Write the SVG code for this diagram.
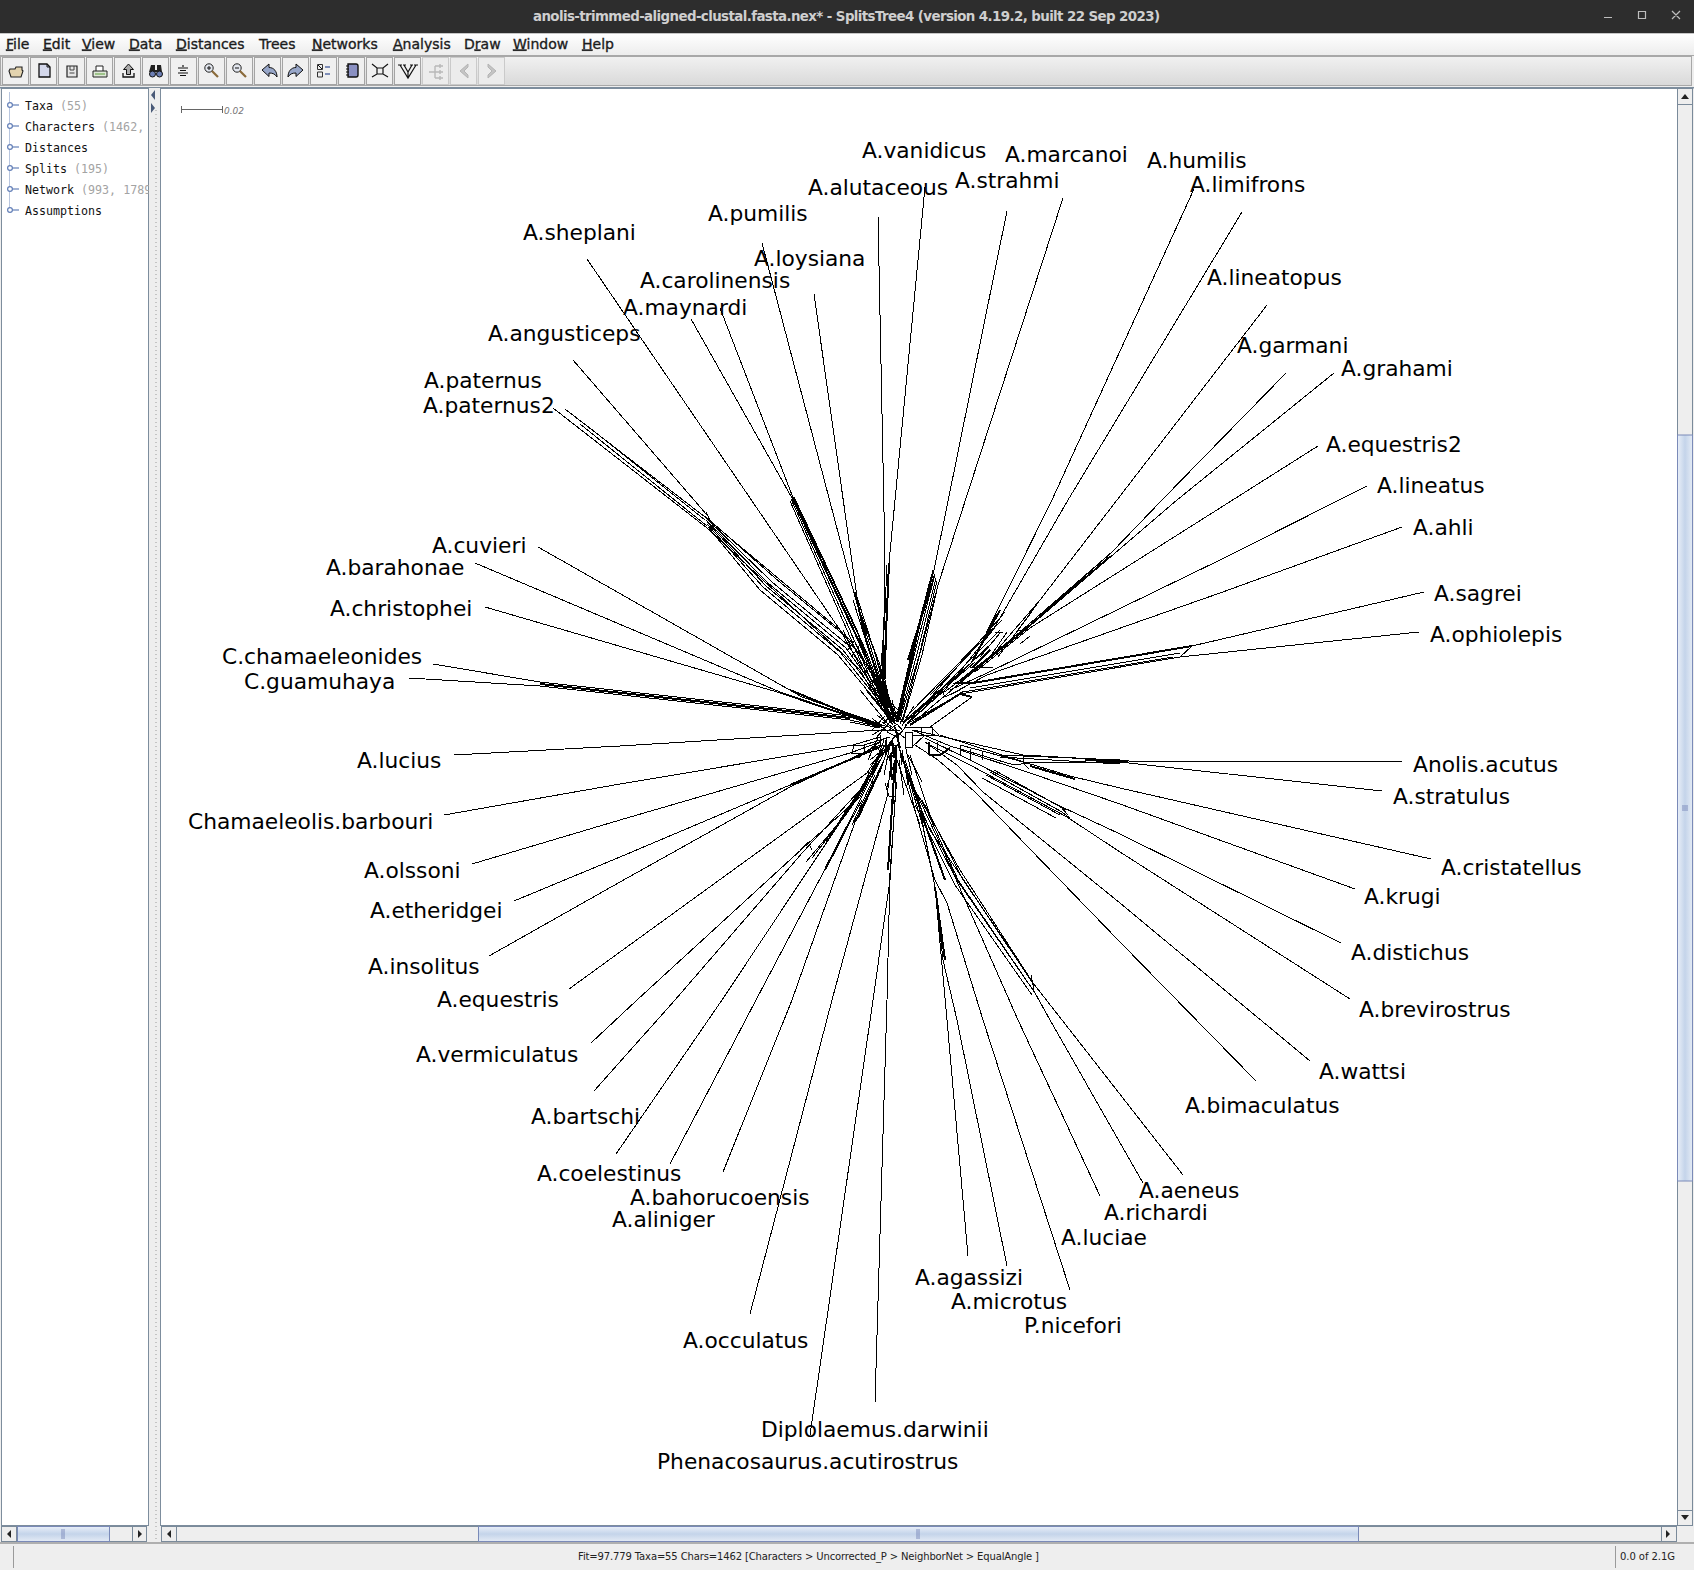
<svg xmlns="http://www.w3.org/2000/svg" width="1694" height="1570" viewBox="0 0 1694 1570">
<style>
.menu{font:14px "DejaVu Sans",sans-serif;fill:#1c1c1c;stroke:#1c1c1c;stroke-width:.35}
.u{text-decoration:underline}
.tree{font:11.65px "DejaVu Sans Mono",monospace;fill:#111}
.cnt{fill:#a3a3a3}
.lb{font:21.75px "DejaVu Sans",sans-serif;fill:#000}
.e{fill:none;stroke:#000;stroke-width:1;shape-rendering:crispEdges}
.t{stroke-width:2}
.btn{fill:#f0f0f0;stroke:#a4a4a4;stroke-width:1}
.dbtn{fill:#ececec;stroke:#cacaca;stroke-width:1}
.ln{fill:none;stroke:#111;stroke-width:1.2}
.dis{fill:none;stroke:#b8b8b8;stroke-width:1.4}
.sb{fill:#eeeeee;stroke:#7a8a9a;stroke-width:1}
.th{fill:url(#thumb);stroke:#7a8ab8;stroke-width:1}
.hd{fill:#fff;stroke:#6480b8;stroke-width:1.2}
.hl{stroke:#6480b8;stroke-width:1.2}
</style>
<defs>
<linearGradient id="mb" x1="0" y1="0" x2="0" y2="1"><stop offset="0" stop-color="#fff"/><stop offset="1" stop-color="#ececec"/></linearGradient>
<linearGradient id="tb" x1="0" y1="0" x2="0" y2="1"><stop offset="0" stop-color="#f1f1f1"/><stop offset="1" stop-color="#d9d9d9"/></linearGradient>
<linearGradient id="thumb" x1="0" y1="0" x2="0" y2="1"><stop offset="0" stop-color="#e9eff8"/><stop offset=".5" stop-color="#c4d4ea"/><stop offset="1" stop-color="#e4ebf5"/></linearGradient>
<linearGradient id="thumbv" x1="0" y1="0" x2="1" y2="0"><stop offset="0" stop-color="#e9eff8"/><stop offset=".5" stop-color="#c4d4ea"/><stop offset="1" stop-color="#e4ebf5"/></linearGradient>
<clipPath id="tp"><rect x="2" y="88" width="147" height="1436"/></clipPath>
</defs>
<rect width="1694" height="1570" fill="#eeeeee"/>

<g id="titlebar">
<rect width="1694" height="33.5" fill="#2d2d2d"/>
<text x="533" y="20.5" font-family="DejaVu Sans,sans-serif" font-size="13.4" font-weight="bold" fill="#cfcfcf" textLength="627">anolis-trimmed-aligned-clustal.fasta.nex* - SplitsTree4 (version 4.19.2, built 22 Sep 2023)</text>
<path d="M1604 17.5H1612M1638.5 11.5h7v7h-7zM1672 11l8 8M1680 11l-8 8" fill="none" stroke="#bdbdbd" stroke-width="1.2"/>
</g>

<g id="menubar">
<rect y="33.5" width="1694" height="22.5" fill="url(#mb)"/>
<line x1="0" x2="1694" y1="55.5" y2="55.5" stroke="#a8a8a8"/>
<text class="menu" x="6" y="48.5"><tspan class="u">F</tspan>ile</text>
<text class="menu" x="43" y="48.5"><tspan class="u">E</tspan>dit</text>
<text class="menu" x="82" y="48.5"><tspan class="u">V</tspan>iew</text>
<text class="menu" x="129" y="48.5"><tspan class="u">D</tspan>ata</text>
<text class="menu" x="176" y="48.5"><tspan class="u">D</tspan>istances</text>
<text class="menu" x="259" y="48.5">Trees</text>
<text class="menu" x="312" y="48.5"><tspan class="u">N</tspan>etworks</text>
<text class="menu" x="393" y="48.5"><tspan class="u">A</tspan>nalysis</text>
<text class="menu" x="464" y="48.5">D<tspan class="u">r</tspan>aw</text>
<text class="menu" x="513" y="48.5"><tspan class="u">W</tspan>indow</text>
<text class="menu" x="582" y="48.5"><tspan class="u">H</tspan>elp</text>
</g>

<g id="toolbar">
<rect x="0.5" y="56.5" width="1691" height="29" fill="url(#tb)" stroke="#a8a8a8"/>
<rect x="2.5" y="57.5" width="26" height="27" class="btn"/>
<rect x="30.5" y="57.5" width="26" height="27" class="btn"/>
<rect x="58.5" y="57.5" width="26" height="27" class="btn"/>
<rect x="86.5" y="57.5" width="26" height="27" class="btn"/>
<rect x="114.5" y="57.5" width="26" height="27" class="btn"/>
<rect x="142.5" y="57.5" width="26" height="27" class="btn"/>
<rect x="170.5" y="57.5" width="26" height="27" class="btn"/>
<rect x="198.5" y="57.5" width="26" height="27" class="btn"/>
<rect x="226.5" y="57.5" width="26" height="27" class="btn"/>
<rect x="254.5" y="57.5" width="26" height="27" class="btn"/>
<rect x="282.5" y="57.5" width="26" height="27" class="btn"/>
<rect x="310.5" y="57.5" width="26" height="27" class="btn"/>
<rect x="338.5" y="57.5" width="26" height="27" class="btn"/>
<rect x="366.5" y="57.5" width="26" height="27" class="btn"/>
<rect x="394.5" y="57.5" width="26" height="27" class="btn"/>
<rect x="422.5" y="57.5" width="26" height="27" class="dbtn"/>
<rect x="450.5" y="57.5" width="26" height="27" class="dbtn"/>
<rect x="478.5" y="57.5" width="26" height="27" class="dbtn"/>
<path d="M10 69h5l1-2h6v3l1 1-2 6H11l-2-6z" fill="#e3d3ae" stroke="#222" stroke-width="1.1"/>
<path d="M39 64h8l3 3v10H39z" fill="#d3d7ea" stroke="#111" stroke-width="1.3"/><path d="M47 64v3h3" fill="none" stroke="#111"/>
<path d="M67 66h10v11H67z" fill="#e6e6e6" stroke="#222" stroke-width="1.2"/><path d="M70 66v4h4v-4M69.5 73h5" fill="none" stroke="#444"/>
<path d="M96 66h7v6h-7z" fill="#fff" stroke="#222"/><path d="M93 71h14v6H93z" fill="#dfe8d8" stroke="#222"/><path d="M95 74h10" stroke="#7bb060" stroke-width="1.3"/>
<path d="M128.5 64l5 5.5h-3v5h-4v-5h-3z" fill="#aaa" stroke="#111"/><path d="M123 73v4h11v-4" fill="none" stroke="#111" stroke-width="1.3"/>
<path d="M151 65h4v5h2v-5h4l1 7h-13z" fill="#222"/><circle cx="152.5" cy="74" r="3" fill="#6d7fb5" stroke="#111"/><circle cx="159.5" cy="74" r="3" fill="#6d7fb5" stroke="#111"/>
<path class="ln" d="M183 65v2M178 68h10M180 70.5h6M178 73h10M180 75.5h6"/>
<circle cx="209" cy="68" r="4.2" fill="#e2e6ee" stroke="#222"/><path d="M212 71l6 6" stroke="#8a6a3a" stroke-width="2.2"/><path d="M207 68h4M209 66v4" stroke="#111"/>
<circle cx="237" cy="68" r="4.2" fill="#e2e6ee" stroke="#222"/><path d="M240 71l6 6" stroke="#8a6a3a" stroke-width="2.2"/><path d="M235 68h4" stroke="#111"/>
<path d="M262 70l7-6v3.5c5 0 8 4 8 9.5c-2-3-4-4-8-4v3.5z" fill="#97a6c8" stroke="#111"/>
<path d="M303 70l-7-6v3.5c-5 0-8 4-8 9.5c2-3 4-4 8-4v3.5z" fill="#97a6c8" stroke="#111"/>
<path d="M317.5 64.5h5v5h-5zM317.5 72h5v5h-5z" fill="#eee" stroke="#333"/><path d="M325 67h5M325 74h5" stroke="#5a6ea5" stroke-width="1.5"/><path d="M318 65l4 4" stroke="#111"/>
<path d="M348 64h8a2 2 0 0 1 2 2v9a2 2 0 0 1-2 2h-8z" fill="#8a90c2" stroke="#111" stroke-width="1.4"/><path d="M346 66h3M346 69h3M346 72h3M346 75h3" stroke="#111"/>
<path class="ln" d="M372 64l5 4h6l5-4M372 77l5-3h6l5 3M377 68v6M383 68v6"/>
<path class="ln" d="M400 65l8 13 8-13M404 65l4 7 4-7M408 72v6M398 65h4M403 65h3M410 65h3M414 65h4"/>
<path class="dis" d="M429 72h6M435 66v12M435 66h8M435 72h8M435 78h8M440 64v4M440 70v4M440 76v4"/>
<path d="M468 64l-8 7 8 7v-3l-4-4 4-4z" fill="#c4c4c4" stroke="#b4b4b4"/>
<path d="M488 64l8 7-8 7v-3l4-4-4-4z" fill="#c4c4c4" stroke="#b4b4b4"/>
</g>

<rect x="0" y="87" width="1694" height="1.5" fill="#7d8d9d"/>

<g id="leftpanel">
<rect x="1.5" y="88.5" width="147" height="1437" fill="#fff" stroke="#7d8d9d"/>
<line x1="9.5" x2="9.5" y1="92" y2="212" stroke="#b9c6de" stroke-width="1"/>
<g>
<line class="hl" x1="10" x2="19" y1="105" y2="105"/><circle class="hd" cx="10" cy="105" r="2.4"/>
<line class="hl" x1="10" x2="19" y1="126" y2="126"/><circle class="hd" cx="10" cy="126" r="2.4"/>
<line class="hl" x1="10" x2="19" y1="147" y2="147"/><circle class="hd" cx="10" cy="147" r="2.4"/>
<line class="hl" x1="10" x2="19" y1="168" y2="168"/><circle class="hd" cx="10" cy="168" r="2.4"/>
<line class="hl" x1="10" x2="19" y1="189" y2="189"/><circle class="hd" cx="10" cy="189" r="2.4"/>
<line class="hl" x1="10" x2="19" y1="210" y2="210"/><circle class="hd" cx="10" cy="210" r="2.4"/>
</g>
<g clip-path="url(#tp)">
<text class="tree" x="25" y="110">Taxa <tspan class="cnt">(55)</tspan></text>
<text class="tree" x="25" y="131">Characters <tspan class="cnt">(1462,</tspan></text>
<text class="tree" x="25" y="152">Distances</text>
<text class="tree" x="25" y="173">Splits <tspan class="cnt">(195)</tspan></text>
<text class="tree" x="25" y="194">Network <tspan class="cnt">(993, 1789</tspan></text>
<text class="tree" x="25" y="215">Assumptions</text>
</g>
</g>

<g id="splitter">
<rect x="149" y="88" width="11" height="1455" fill="#eeeeee"/>
<line x1="156" x2="156" y1="110" y2="1540" stroke="#9a9a9a" stroke-dasharray="1 3"/>
<path d="M155 90l-4 5 4 5zM151 103l4 5-4 5z" fill="#4a5a78"/>
</g>

<g id="canvas">
<rect x="160.5" y="88.5" width="1517" height="1437" fill="#fff" stroke="#7d8d9d"/>
</g>

<g id="scalebar" fill="none" stroke="#666" stroke-width="1">
<path d="M181.5 106v7M181.5 109.5H222M222.5 106v7" shape-rendering="crispEdges"/>
<text x="224" y="114" font-family="DejaVu Sans,sans-serif" font-size="9" font-style="italic" fill="#777" stroke="none">0.02</text>
</g>

<g id="connectors" class="e">
<path d="M925 187L889 563L885 680L894 722"/>
<path d="M878 216L885 560L883 675L890 722"/>
<path d="M1007 211L934 570L896 720"/>
<path d="M1063 198L938 585L902 722"/>
<path d="M1194 189L1052 500L972 662L905 722"/>
<path d="M1242 212L1068 500L993 630L945 690L907 723"/>
<path d="M1267 305L1117 500L1040 600L990 658L910 725"/>
<path d="M1286 373L1162 500L1112 552L1013 638L955 684"/>
<path d="M1334 373L1177 500L1023 632L960 682"/>
<path d="M1318 446L1220 508L1030 628L975 672"/>
<path d="M1367 486L1220 560L987 673L950 690"/>
<path d="M1402 527L1220 593L987 675L955 692"/>
<path d="M1424 592L1192 646L973 683L953 684"/>
<path d="M1419 632L1180 657L960 694"/>
<path d="M1402 761L1129 761L1023 755L913 730"/>
<path d="M1382 791L1120 762L1027 763L960 745"/>
<path d="M1431 859L1120 788L1070 776L1027 763L940 735"/>
<path d="M1355 889L1120 804L1030 773L960 750"/>
<path d="M1341 943L1120 834L1062 807L970 760L925 738"/>
<path d="M1350 999L1120 852L1067 817L970 765L930 745"/>
<path d="M1310 1061L1120 903L983 792L957 765L925 742"/>
<path d="M1256 1081L1120 942L1028 847L975 792L938 760L915 745"/>
<path d="M1183 1175L1062 1020L1033 983L930 830L905 770"/>
<path d="M1143 1183L1050 1020L1035 993L957 880L915 790L900 755"/>
<path d="M1100 1196L1018 1020L955 877L923 815L900 750"/>
<path d="M1070 1290L983 1020L947 903L935 880L915 810L902 755"/>
<path d="M1007 1266L957 1020L943 960L935 887L923 827L905 765"/>
<path d="M968 1256L947 1020L935 887L920 810L898 745"/>
<path d="M875 1402L887 1000L890 873L895 803L897 745"/>
<path d="M810 1435L873 1000L890 880L895 800L895 745"/>
<path d="M750 1314L832 1000L887 797L893 745"/>
<path d="M723 1172L792 1000L855 822L877 777L892 740"/>
<path d="M670 1164L756 1000L823 873L860 800L888 745"/>
<path d="M616 1154L722 1000L815 860L865 785L885 745"/>
<path d="M594 1091L675 1000L803 852L860 790L885 745"/>
<path d="M591 1043L637 1000L803 848L860 797L885 745"/>
<path d="M569 989L620 952L867 773L885 745"/>
<path d="M489 956L620 882L790 787L880 745"/>
<path d="M514 901L620 857L790 785L880 747"/>
<path d="M472 864L620 820L850 753L880 742"/>
<path d="M444 815L620 784L853 745L880 737"/>
<path d="M454 755L620 746L880 730"/>
<path d="M409 678L540 686L850 720L885 728"/>
<path d="M433 664L540 682L850 716L885 726"/>
<path d="M485 607L777 692L880 727"/>
<path d="M475 563L780 692L880 726"/>
<path d="M538 547L802 697L880 724"/>
<path d="M565 409L705 517L840 630L887 690L895 722"/>
<path d="M553 408L707 528L860 670L887 717L893 725"/>
<path d="M573 360L707 515"/>
<path d="M587 259L840 630L892 722"/>
<path d="M691 319L792 498L853 627L890 722"/>
<path d="M720 308L792 495L867 653L893 722"/>
<path d="M762 243L855 597L887 700L895 722"/>
<path d="M814 294L857 597L890 700L897 722"/>

<path d="M580 424L707 526M590 428L705 520"/>
<path d="M705 516L775 578L850 640L888 700M706 518L772 582L848 645L889 705M706 520L768 583L846 648L889 708M707 522L766 586L843 650L890 712M707 524L763 587L840 652L891 716M708 527L760 590L838 655L892 720"/>
<path d="M706 512L714 528"/>
<path d="M851 634L864 660M843 630L852 650M855 640L848 650M860 645L852 656"/>
<path class="t" d="M792 497L852 627L868 660"/>
<path d="M791 499L849 628L882 706M790 501L847 630L880 706M794 497L855 626L885 708M796 502L857 630L887 710M798 506L859 636L889 714"/>
<path class="t" d="M855 592L866 640L884 695"/>
<path d="M853 600L872 660L888 712M858 608L874 650L892 715M860 612L880 665L893 718"/>
<path class="t" d="M889 563L884 680"/>
<path d="M887 565L882 675L888 716M886 600L880 680L886 712"/>
<path d="M933 570L913 650L897 719M935 574L915 652L898 719M936 578L917 654L899 720M937 581L919 656L900 720M938 585L922 655L903 720M934 576L911 655L896 720"/>
<path class="t" d="M932 575L915 640M930 590L908 660"/>
<path class="t" d="M916 640L899 716"/>
<path class="t" d="M790 690L880 727"/>
<path class="t" d="M540 684L850 718"/>
<path d="M850 714L880 726M850 722L880 728"/>
<path class="t" d="M790 785L880 747"/>
<path class="t" d="M855 822L877 777M858 818L880 770"/>
<path d="M852 825L875 775M860 812L882 765M865 800L884 760M845 815L870 775M835 830L866 785M826 842L860 795M812 858L853 805M806 862L848 812M825 868L862 800M840 820L880 760M830 835L878 765"/>
<path class="t" d="M825 870L848 825"/>
<path d="M800 850L808 842L812 850"/>
<path class="t" d="M888 870L895 760"/>
<path class="t" d="M920 810L945 880M935 887L945 960"/>
<path d="M922 800L958 880L1033 990M925 805L962 878L1034 985M915 805L955 885L1032 995M918 795L960 870L1028 975"/>
<path d="M1031 975L1034 990"/>
<path d="M905 760L925 820M910 755L930 815M897 760L920 825"/>
<path d="M990 772L1062 812L1070 818M994 770L1066 810M986 775L1060 815M982 778L1056 818"/>
<path d="M1060 806L1068 815"/>
<path d="M1000 755L1120 760M1000 757L1120 764"/>
<path class="t" d="M1085 760L1128 762M1030 766L1075 779"/>
<path class="t" d="M973 683L1192 646"/>
<path d="M1192 646L1180 657M1173 657L963 692M1180 653L970 688"/>
<path class="t" d="M955 683L973 683M960 694L972 697"/>
<path d="M972 697L930 727M960 694L905 725"/>
<path class="t" d="M963 692L910 725"/>
<path class="t" d="M1011 640L960 682"/>
<path d="M1112 552L1013 640M1110 556L1010 642"/>
<path class="t" d="M990 650L972 668"/>
<path d="M995 640L912 720M1000 630L918 712M1002 620L930 695M1005 612L925 704M993 628L905 718M975 662L908 720M965 668L903 722"/>
<path class="t" d="M1000 610L972 662"/>
<path d="M970 667H993M995 633L1003 632M1018 630H1027M1012 638L1027 628M998 657L1033 610M1000 633L980 657M1007 632L990 657M1030 636L1020 644M1040 600L1018 630"/>
<path d="M960 690L945 697L943 693L958 682"/>

<path d="M905 732h7v15h-7zM898 735L906 727h25l8 8M912 735H938M921 727v9M932 727v8"/>
<path d="M912 747L925 735M912 730L950 746L1014 765L1028 763"/>
<path class="t" d="M929 742v13M929 755h11L950 748"/>
<path d="M937 742v10M960 745v11M970 749v11M982 751v9M1023 755v8l6 6"/>
<path d="M854 745h10v8h-12zM864 745L890 737M870 760l10-8"/>
<path d="M868 771v8l6 4M875 765l-3 10"/>
<path d="M887 732L897 724L903 731L897 737zM880 735v12M886 737v14M892 738L895 752L890 760M872 735L888 726M884 724L890 715"/>
<path class="t" d="M895 727L900 748M892 740L894 758"/>
<path d="M874 745l9 9M882 756L888 745M885 783l4 13h6l2-14M893 790v14"/>
<path d="M872 730L885 716M876 738L890 722M866 752L884 738M858 758L880 742M880 755L896 735M876 762L892 742M880 745L898 745M886 760L900 742M870 765L886 750"/>
<path class="t" d="M886 740V755M890 755L892 780"/>
<path d="M877 715L893 728M872 718L888 732M881 708L897 722M898 735L902 765M905 745L912 775M902 750L908 785M884 775L890 745"/>
<path d="M866 690L892 722M870 685L894 718M874 680L896 716M860 690L888 724M880 690L898 715M884 696L900 712M892 700L898 722M904 700L898 722M908 705L900 724M914 706L902 726M920 708L904 728"/>
<path class="t" d="M878 695L895 724M884 690L897 720"/>
<path d="M884 740L874 768M889 745L880 772M878 738L868 760M895 760L886 790M899 760L904 795M904 762L914 790M908 755L922 782M876 730L900 730M882 722L905 738"/>
</g>

<g id="labels">
<g id="n01"><text class="lb" x="862" y="158">A.vanidicus</text></g>
<g id="n02"><text class="lb" x="1005" y="162">A.marcanoi</text></g>
<g id="n03"><text class="lb" x="1147" y="167.5">A.humilis</text></g>
<g id="n04"><text class="lb" x="1190" y="192">A.limifrons</text></g>
<g id="n05"><text class="lb" x="955" y="188">A.strahmi</text></g>
<g id="n06"><text class="lb" x="808" y="195">A.alutaceous</text></g>
<g id="n07"><text class="lb" x="708" y="221">A.pumilis</text></g>
<g id="n08"><text class="lb" x="523" y="240">A.sheplani</text></g>
<g id="n09"><text class="lb" x="754" y="266">A.loysiana</text></g>
<g id="n10"><text class="lb" x="640" y="288">A.carolinensis</text></g>
<g id="n11"><text class="lb" x="623" y="314.5">A.maynardi</text></g>
<g id="n12"><text class="lb" x="488" y="340.5">A.angusticeps</text></g>
<g id="n13"><text class="lb" x="424" y="388">A.paternus</text></g>
<g id="n14"><text class="lb" x="423" y="413">A.paternus2</text></g>
<g id="n15"><text class="lb" x="432" y="553">A.cuvieri</text></g>
<g id="n16"><text class="lb" x="326" y="575">A.barahonae</text></g>
<g id="n17"><text class="lb" x="330" y="616">A.christophei</text></g>
<g id="n18"><text class="lb" x="222" y="664">C.chamaeleonides</text></g>
<g id="n19"><text class="lb" x="244" y="689">C.guamuhaya</text></g>
<g id="n20"><text class="lb" x="357" y="768">A.lucius</text></g>
<g id="n21"><text class="lb" x="188" y="829">Chamaeleolis.barbouri</text></g>
<g id="n22"><text class="lb" x="364" y="878">A.olssoni</text></g>
<g id="n23"><text class="lb" x="370" y="918">A.etheridgei</text></g>
<g id="n24"><text class="lb" x="368" y="974">A.insolitus</text></g>
<g id="n25"><text class="lb" x="437" y="1007">A.equestris</text></g>
<g id="n26"><text class="lb" x="416" y="1062">A.vermiculatus</text></g>
<g id="n27"><text class="lb" x="531" y="1124">A.bartschi</text></g>
<g id="n28"><text class="lb" x="537" y="1181">A.coelestinus</text></g>
<g id="n29"><text class="lb" x="630" y="1205">A.bahorucoensis</text></g>
<g id="n30"><text class="lb" x="612" y="1227">A.aliniger</text></g>
<g id="n31"><text class="lb" x="683" y="1348">A.occulatus</text></g>
<g id="n32"><text class="lb" x="761" y="1437">Diplolaemus.darwinii</text></g>
<g id="n33"><text class="lb" x="657" y="1469">Phenacosaurus.acutirostrus</text></g>
<g id="n34"><text class="lb" x="915" y="1285">A.agassizi</text></g>
<g id="n35"><text class="lb" x="951" y="1309">A.microtus</text></g>
<g id="n36"><text class="lb" x="1024" y="1333">P.nicefori</text></g>
<g id="n37"><text class="lb" x="1061" y="1245">A.luciae</text></g>
<g id="n38"><text class="lb" x="1104" y="1220">A.richardi</text></g>
<g id="n39"><text class="lb" x="1139" y="1198">A.aeneus</text></g>
<g id="n40"><text class="lb" x="1185" y="1113">A.bimaculatus</text></g>
<g id="n41"><text class="lb" x="1319" y="1079">A.wattsi</text></g>
<g id="n42"><text class="lb" x="1359" y="1017">A.brevirostrus</text></g>
<g id="n43"><text class="lb" x="1351" y="959.5">A.distichus</text></g>
<g id="n44"><text class="lb" x="1364" y="903.5">A.krugi</text></g>
<g id="n45"><text class="lb" x="1441" y="875">A.cristatellus</text></g>
<g id="n46"><text class="lb" x="1393" y="804">A.stratulus</text></g>
<g id="n47"><text class="lb" x="1413" y="772">Anolis.acutus</text></g>
<g id="n48"><text class="lb" x="1430" y="642">A.ophiolepis</text></g>
<g id="n49"><text class="lb" x="1434" y="601">A.sagrei</text></g>
<g id="n50"><text class="lb" x="1413" y="535">A.ahli</text></g>
<g id="n51"><text class="lb" x="1377" y="493">A.lineatus</text></g>
<g id="n52"><text class="lb" x="1326" y="452">A.equestris2</text></g>
<g id="n53"><text class="lb" x="1341" y="376">A.grahami</text></g>
<g id="n54"><text class="lb" x="1237" y="352.5">A.garmani</text></g>
<g id="n55"><text class="lb" x="1207" y="285">A.lineatopus</text></g>
</g>

<g id="scrollbars">
<rect class="sb" x="1677.5" y="88.5" width="15" height="1437"/>
<rect x="1677.5" y="435" width="15" height="746" fill="url(#thumbv)" stroke="#7a8ab8"/>
<path d="M1682 808h6M1682 806h6M1682 810h6" stroke="#6a7ab0" stroke-width=".8"/>
<rect class="sb" x="1677.5" y="88.5" width="15" height="16"/>
<path d="M1681 99h8l-4-5z" fill="#222"/>
<rect class="sb" x="1677.5" y="1510.5" width="15" height="15"/>
<path d="M1681 1515h8l-4 5z" fill="#222"/>

<rect class="sb" x="1.5" y="1526.5" width="145" height="15"/>
<rect class="th" x="17.5" y="1526.5" width="92" height="15"/>
<path d="M62 1529v10M64 1529v10" stroke="#6a7ab0" stroke-width=".8"/>
<path d="M11 1530v8l-4-4zM138 1530v8l4-4z" fill="#222"/>
<path d="M16.5 1527v14M132.5 1527v14" stroke="#7a8a9a"/>

<rect class="sb" x="161.5" y="1526.5" width="1515" height="15"/>
<rect class="th" x="478.5" y="1526.5" width="880" height="15"/>
<path d="M917 1529v10M919 1529v10" stroke="#6a7ab0" stroke-width=".8"/>
<path d="M171 1530v8l-4-4zM1666 1530v8l4-4z" fill="#222"/>
<path d="M176.5 1527v14M1661.5 1527v14" stroke="#7a8a9a"/>
</g>

<g id="statusbar">
<line x1="0" x2="1694" y1="1543" y2="1543" stroke="#9a9a9a" stroke-width="1.5"/>
<line x1="13.5" x2="13.5" y1="1546" y2="1568" stroke="#9a9a9a"/>
<line x1="1615.5" x2="1615.5" y1="1546" y2="1568" stroke="#9a9a9a"/>
<text x="578" y="1560" font-family="DejaVu Sans,sans-serif" font-size="10" fill="#222" textLength="461">Fit=97.779 Taxa=55 Chars=1462 [Characters &gt; Uncorrected_P &gt; NeighborNet &gt; EqualAngle ]</text>
<text x="1620" y="1560" font-family="DejaVu Sans,sans-serif" font-size="10" fill="#222" textLength="55">0.0 of 2.1G</text>
</g>
</svg>
